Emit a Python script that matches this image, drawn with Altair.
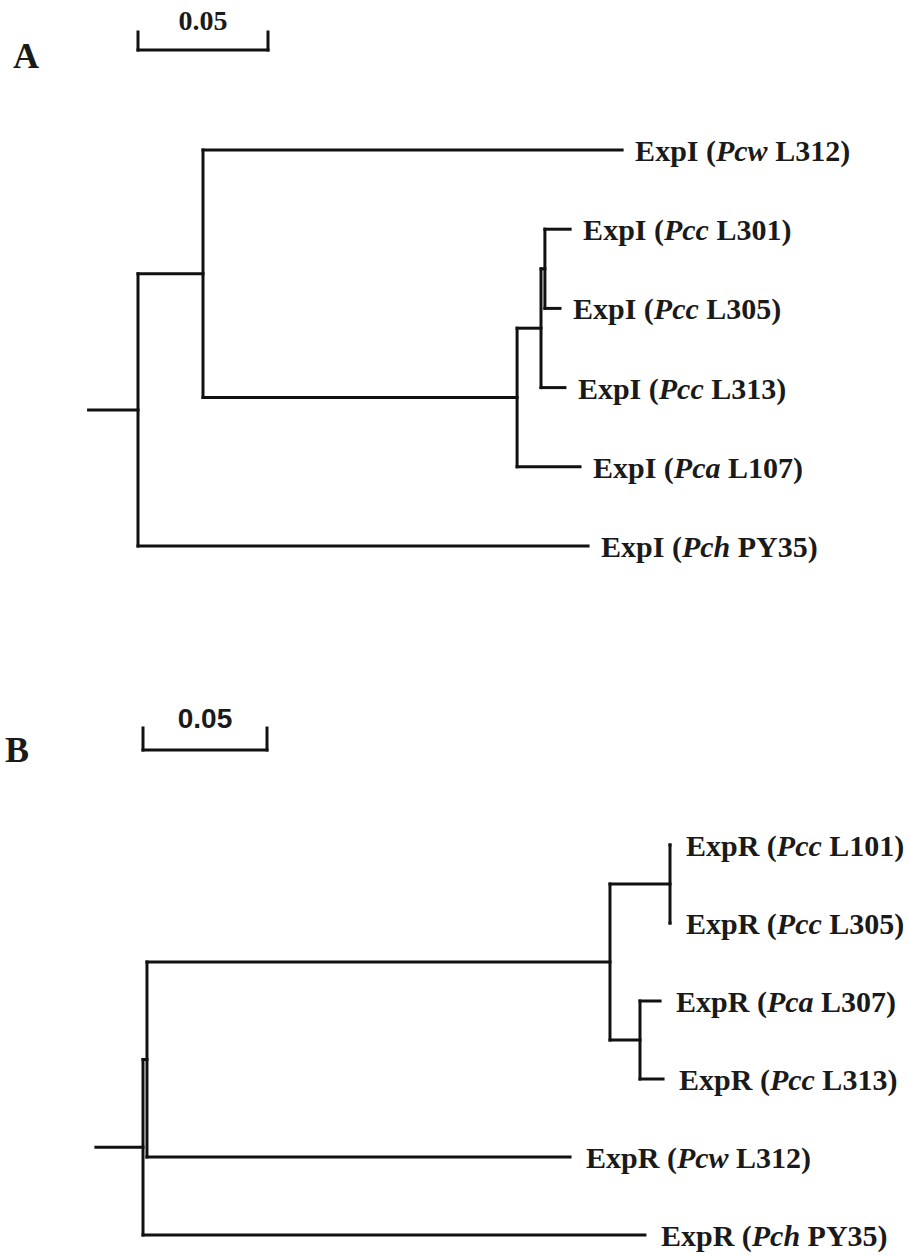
import altair as alt
import pandas as pd

# ---------------- data ----------------
# Tree A (ExpI)
A_gene = "ExpI"
A_nodes = ["root", "n1", "n2", "n3", "n4",
           "Pcw L312", "Pcc L301", "Pcc L305", "Pcc L313", "Pca L107", "Pch PY35"]
A_parents = ["", "root", "n1", "n2", "n3",
             "n1", "n4", "n4", "n3", "n2", "root"]
A_depth = [0.0, 0.0250, 0.1458, 0.1550, 0.1565,
           0.1862, 0.1662, 0.1623, 0.1642, 0.1700, 0.1731]
A_leaf_species = ["Pcw", "Pcc", "Pcc", "Pcc", "Pca", "Pch"]
A_leaf_strain = ["L312", "L301", "L305", "L313", "L107", "PY35"]

# Tree B (ExpR)
B_gene = "ExpR"
B_nodes = ["root", "n1", "n2", "n3", "n4",
           "Pcc L101", "Pcc L305", "Pca L307", "Pcc L313", "Pcw L312", "Pch PY35"]
B_parents = ["", "root", "n1", "n2", "n2",
             "n3", "n3", "n4", "n4", "n1", "root"]
B_depth = [0.0, 0.0016, 0.1883, 0.2125, 0.2004,
           0.2125, 0.2125, 0.2085, 0.2097, 0.1722, 0.2024]
B_leaf_species = ["Pcc", "Pcc", "Pca", "Pcc", "Pcw", "Pch"]
B_leaf_strain = ["L101", "L305", "L307", "L313", "L312", "PY35"]

SCALE_BAR = 0.05
ROOT_STEM = 0.019

# ---------------- text metrics (Times/Liberation Serif) ----------------
BOLD = {'E': 667, 'x': 500, 'p': 556, 'I': 389, 'R': 722, ' ': 250, '(': 333,
        ')': 333, 'L': 667, 'Y': 722, 'P': 611}
BOLDITAL = {'P': 611, 'c': 444, 'w': 667, 'a': 500, 'h': 556}
for d in "0123456789":
    BOLD[d] = 500


def tw(s, table, size):
    return sum(table.get(c, 500) for c in s) / 1000.0 * size


FONT = "Liberation Serif"
LABEL_SIZE = 30


def build_panel(gene, nodes, parents, depth, species, strain,
                ppu, root_px, leaf_y0, leaf_step, height, gap,
                letter, letter_x, letter_y, letter_size,
                bar_y, tick_top, bar_label_y, bar_font, bar_font_size):
    dep = dict(zip(nodes, depth))
    par = dict(zip(nodes, parents))
    children = {n: [m for m in nodes if par[m] == n] for n in nodes}
    leaves = [s + " " + t for s, t in zip(species, strain)]
    ypos = {n: i for i, n in enumerate(leaves)}

    def gety(n):
        if n in ypos:
            return ypos[n]
        ys = [gety(c) for c in children[n]]
        ypos[n] = (min(ys) + max(ys)) / 2.0
        return ypos[n]

    for n in nodes:
        gety(n)

    segs = []
    for n in nodes:
        if par[n]:
            segs.append(dict(x=dep[par[n]], x2=dep[n], y=ypos[n], y2=ypos[n]))
        if children[n]:
            ys = [ypos[c] for c in children[n]]
            segs.append(dict(x=dep[n], x2=dep[n], y=min(ys), y2=max(ys)))
    root = nodes[0]
    segs.append(dict(x=-ROOT_STEM, x2=0.0, y=ypos[root], y2=ypos[root]))
    seg_df = pd.DataFrame(segs)

    labs = []
    for sp, st in zip(species, strain):
        n = sp + " " + st
        t1 = gene + " ("
        t3 = st + ")"
        w1 = tw(t1, BOLD, LABEL_SIZE)
        w2 = tw(sp, BOLDITAL, LABEL_SIZE) + tw(" ", BOLD, LABEL_SIZE)
        x1 = dep[n] + gap / ppu
        labs.append(dict(y=ypos[n], t1=t1, t2=sp, t3=t3,
                         lx1=x1, lx2=x1 + w1 / ppu, lx3=x1 + (w1 + w2) / ppu))
    lab_df = pd.DataFrame(labs)

    xdom = [-root_px / ppu, (910 - root_px) / ppu]
    ydom = [-leaf_y0 / leaf_step, (height - leaf_y0) / leaf_step]
    xs = alt.Scale(domain=xdom, nice=False, zero=False)
    ys = alt.Scale(domain=ydom, nice=False, zero=False, reverse=True)

    lines = alt.Chart(seg_df).mark_rule(strokeWidth=3, color="#111111", strokeCap="square").encode(
        x=alt.X("x:Q", scale=xs, axis=None),
        x2="x2:Q",
        y=alt.Y("y:Q", scale=ys, axis=None),
        y2="y2:Q",
    )

    def piece(field, xf, style):
        return alt.Chart(lab_df).mark_text(
            font=FONT, fontSize=LABEL_SIZE, fontWeight="bold", fontStyle=style,
            align="left", baseline="alphabetic", dy=11, color="#1a1a1a"
        ).encode(
            x=alt.X(xf + ":Q", scale=xs, axis=None),
            y=alt.Y("y:Q", scale=ys, axis=None),
            text=field + ":N",
        )

    bar_df = pd.DataFrame({"b0": [0.0], "b1": [SCALE_BAR], "bm": [SCALE_BAR / 2],
                           "lab": ["0.05"], "let": [letter]})
    bar = alt.Chart(bar_df).mark_rule(strokeWidth=3, color="#111111", strokeCap="square").encode(
        x=alt.X("b0:Q", scale=xs, axis=None), x2="b1:Q", y=alt.value(bar_y))
    tick0 = alt.Chart(bar_df).mark_rule(strokeWidth=3, color="#111111", strokeCap="square").encode(
        x=alt.X("b0:Q", scale=xs, axis=None), y=alt.value(tick_top), y2=alt.value(bar_y))
    tick1 = alt.Chart(bar_df).mark_rule(strokeWidth=3, color="#111111", strokeCap="square").encode(
        x=alt.X("b1:Q", scale=xs, axis=None), y=alt.value(tick_top), y2=alt.value(bar_y))
    bar_lab = alt.Chart(bar_df).mark_text(
        font=bar_font, fontSize=bar_font_size, fontWeight="bold", align="center",
        baseline="alphabetic", color="#1a1a1a"
    ).encode(x=alt.X("bm:Q", scale=xs, axis=None), y=alt.value(bar_label_y), text="lab:N")
    let = alt.Chart(bar_df).mark_text(
        font=FONT, fontSize=letter_size, fontWeight="bold", align="left",
        baseline="alphabetic", color="#1a1a1a"
    ).encode(x=alt.value(letter_x), y=alt.value(letter_y), text="let:N")

    return alt.layer(
        lines,
        piece("t1", "lx1", "normal"),
        piece("t2", "lx2", "italic"),
        piece("t3", "lx3", "normal"),
        bar, tick0, tick1, bar_lab, let,
    ).properties(width=910, height=height)


panel_a = build_panel(A_gene, A_nodes, A_parents, A_depth, A_leaf_species, A_leaf_strain,
                      ppu=2600, root_px=138, leaf_y0=150, leaf_step=79.2, height=628, gap=13,
                      letter="A", letter_x=13, letter_y=68, letter_size=36,
                      bar_y=50, tick_top=32, bar_label_y=30, bar_font=FONT, bar_font_size=28)

panel_b = build_panel(B_gene, B_nodes, B_parents, B_depth, B_leaf_species, B_leaf_strain,
                      ppu=2480, root_px=143, leaf_y0=845 - 628, leaf_step=78, height=628, gap=16,
                      letter="B", letter_x=5, letter_y=762 - 628, letter_size=36,
                      bar_y=750 - 628, tick_top=728 - 628, bar_label_y=728 - 628,
                      bar_font="Liberation Sans", bar_font_size=28)

chart = alt.vconcat(panel_a, panel_b, spacing=0).properties(
    padding=0, background="white"
).configure_view(stroke=None).configure_concat(spacing=0)

chart.save("out.html", embed_options={"renderer": "svg", "actions": False})
